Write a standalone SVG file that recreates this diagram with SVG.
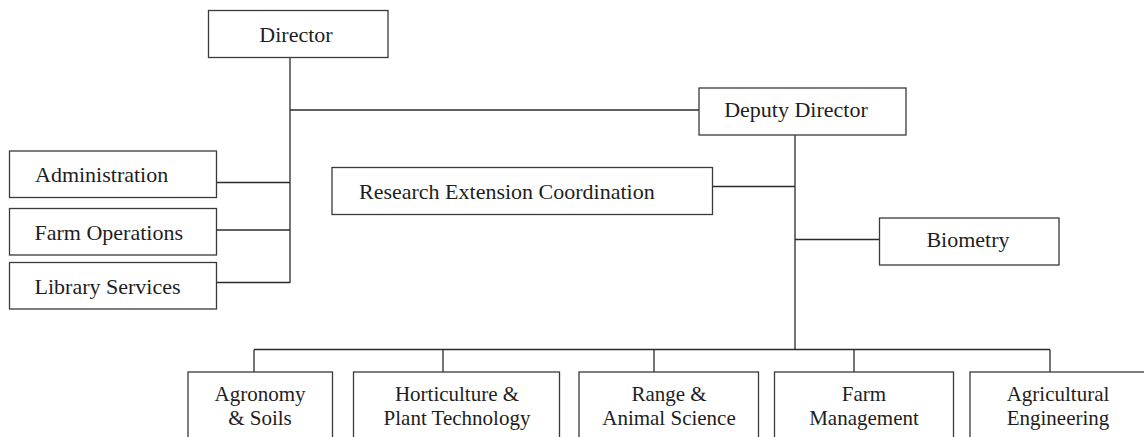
<svg xmlns="http://www.w3.org/2000/svg" width="1144" height="437" viewBox="0 0 1144 437">
<style>
  .box { fill: #ffffff; stroke: #3a3a3a; stroke-width: 1.3; }
  .lbl { font-family: "Liberation Serif", "Times New Roman", serif; font-size: 22px; fill: #1e1e1e; }
  .sm { font-size: 21px; }
  .c { text-anchor: middle; }
  .conn line { stroke: #2a2a2a; stroke-width: 1.3; }
</style>
<rect width="1144" height="437" fill="#ffffff"/>
<g id="connectors" class="conn">
  <line x1="290" y1="57" x2="290" y2="283"/>
  <line x1="290" y1="110" x2="699" y2="110"/>
  <line x1="216" y1="182.5" x2="290" y2="182.5"/>
  <line x1="216" y1="230" x2="290" y2="230"/>
  <line x1="216" y1="282.5" x2="290" y2="282.5"/>
  <line x1="795" y1="135" x2="795" y2="350"/>
  <line x1="712.5" y1="186.5" x2="795" y2="186.5"/>
  <line x1="795" y1="239.5" x2="879.5" y2="239.5"/>
  <line x1="254" y1="349.5" x2="1050" y2="349.5"/>
  <line x1="254" y1="349.5" x2="254" y2="372"/>
  <line x1="443" y1="349.5" x2="443" y2="372"/>
  <line x1="654" y1="349.5" x2="654" y2="372"/>
  <line x1="854" y1="349.5" x2="854" y2="372"/>
  <line x1="1050" y1="349.5" x2="1050" y2="372"/>
</g>
<g id="director">
  <rect class="box" x="208.5" y="10.5" width="179.5" height="47"/>
  <text class="lbl c" x="296" y="42">Director</text>
</g>
<g id="deputy-director">
  <rect class="box" x="699" y="88" width="207" height="47"/>
  <text class="lbl c" x="796" y="117">Deputy Director</text>
</g>
<g id="administration">
  <rect class="box" x="9.5" y="151" width="207" height="46.5"/>
  <text class="lbl" x="35" y="182">Administration</text>
</g>
<g id="farm-operations">
  <rect class="box" x="9.5" y="208.5" width="207" height="46.5"/>
  <text class="lbl" x="34.5" y="239.5">Farm Operations</text>
</g>
<g id="library-services">
  <rect class="box" x="9.5" y="262.5" width="207" height="46.5"/>
  <text class="lbl" x="34.5" y="293.5">Library Services</text>
</g>
<g id="research-extension">
  <rect class="box" x="332" y="167.5" width="380.5" height="47"/>
  <text class="lbl" x="359" y="198.5">Research Extension Coordination</text>
</g>
<g id="biometry">
  <rect class="box" x="879.5" y="218" width="179.5" height="47"/>
  <text class="lbl c" x="968" y="247">Biometry</text>
</g>
<g id="agronomy">
  <rect class="box" x="188" y="372" width="144.5" height="80"/>
  <text class="lbl sm c" x="260" y="400.5">Agronomy</text>
  <text class="lbl sm c" x="260" y="424.5">&amp; Soils</text>
</g>
<g id="horticulture">
  <rect class="box" x="353.5" y="372" width="206" height="80"/>
  <text class="lbl sm c" x="457" y="400.5">Horticulture &amp;</text>
  <text class="lbl sm c" x="457" y="424.5">Plant Technology</text>
</g>
<g id="range-animal">
  <rect class="box" x="579" y="372" width="179.5" height="80"/>
  <text class="lbl sm c" x="669" y="400.5">Range &amp;</text>
  <text class="lbl sm c" x="669" y="424.5">Animal Science</text>
</g>
<g id="farm-management">
  <rect class="box" x="774.5" y="372" width="179" height="80"/>
  <text class="lbl sm c" x="864" y="400.5">Farm</text>
  <text class="lbl sm c" x="864" y="424.5">Management</text>
</g>
<g id="agricultural-engineering">
  <rect class="box" x="970" y="372" width="177" height="80"/>
  <text class="lbl sm c" x="1058" y="400.5">Agricultural</text>
  <text class="lbl sm c" x="1058" y="424.5">Engineering</text>
</g>
</svg>
